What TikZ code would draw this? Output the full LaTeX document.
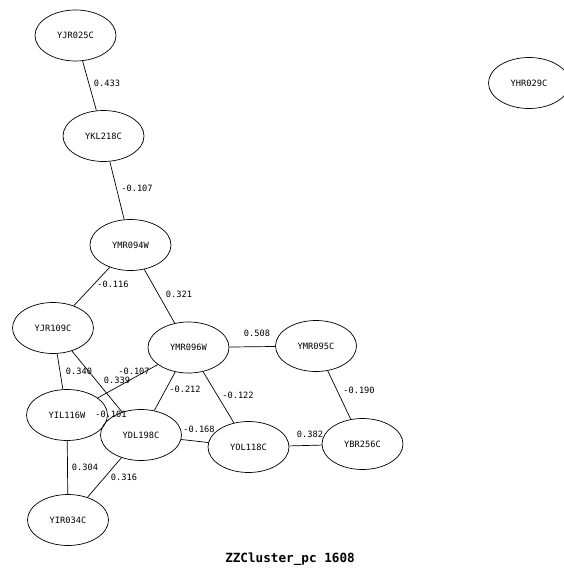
\documentclass[tikz,border=0pt]{standalone}
\usepackage{fontspec}
\setmonofont{DejaVu Sans Mono}
\usetikzlibrary{shapes.geometric}
\tikzset{g/.style={draw,ellipse,minimum width=24.3mm,minimum height=15.3mm,inner sep=0pt,line width=.6pt,
  font=\ttfamily\fontsize{7.4}{8}\selectfont},
 wire/.style={line width=.6pt},
 w/.style={inner sep=0pt,font=\ttfamily\fontsize{7.4}{8}\selectfont}}
\begin{document}
\begin{tikzpicture}[x=.3mm,y=-.3mm]
\useasboundingbox (0,0) rectangle (563,568);
% genes
\node[g] (yjr025) at (75.5,35.5) {YJR025C};
\node[g] (ykl218) at (103.5,136) {YKL218C};
\node[g] (ymr094) at (130.5,245) {YMR094W};
\node[g] (yjr109) at (53,328) {YJR109C};
\node[g] (ymr096) at (188.5,347.5) {YMR096W};
\node[g] (ymr095) at (316,346) {YMR095C};
\node[g] (yil116) at (67,415) {YIL116W};
\node[g] (ydl198) at (141,435) {YDL198C};
\node[g] (yol118) at (248.5,447) {YOL118C};
\node[g] (ybr256) at (362.5,444) {YBR256C};
\node[g] (yir034) at (68,520) {YIR034C};
\node[g] (yhr029) at (529,83) {YHR029C};
% links
\draw[wire] (yjr025)--(ykl218);\draw[wire] (ykl218)--(ymr094);
\draw[wire] (ymr094)--(yjr109);\draw[wire] (ymr094)--(ymr096);
\draw[wire] (yjr109)--(yil116);\draw[wire] (yjr109)--(ydl198);
\draw[wire] (yil116)--(ymr096);\draw[wire] (yil116)--(ydl198);
\draw[wire] (ymr096)--(ydl198);\draw[wire] (ymr096)--(yol118);
\draw[wire] (ymr096)--(ymr095);\draw[wire] (ymr095)--(ybr256);
\draw[wire] (ydl198)--(yol118);\draw[wire] (yol118)--(ybr256);
\draw[wire] (yil116)--(yir034);\draw[wire] (ydl198)--(yir034);
% weights
\node[w] (w1) at (107,83) {0.433};
\node[w] (w2) at (137,188) {-0.107};
\node[w] (w3) at (113,284) {-0.116};
\node[w] (w4) at (179,294) {0.321};
\node[w] (w5) at (79,371) {0.340};
\node[w] (w6) at (134,371) {-0.107};
\node[w] (w7) at (117,380) {0.339};
\node[w] (w8) at (185,389) {-0.212};
\node[w] (w9) at (238,395) {-0.122};
\node[w] (w10) at (111,414) {-0.101};
\node[w] (w11) at (199,429) {-0.168};
\node[w] (w12) at (85,467) {0.304};
\node[w] (w13) at (124,477) {0.316};
\node[w] (w14) at (257,333) {0.508};
\node[w] (w15) at (359,390) {-0.190};
\node[w] (w16) at (310,434) {0.382};
\node[font=\ttfamily\bfseries\fontsize{10.8}{12}\selectfont] (title) at (290,559) {ZZCluster\_pc 1608};
\end{tikzpicture}
\end{document}
